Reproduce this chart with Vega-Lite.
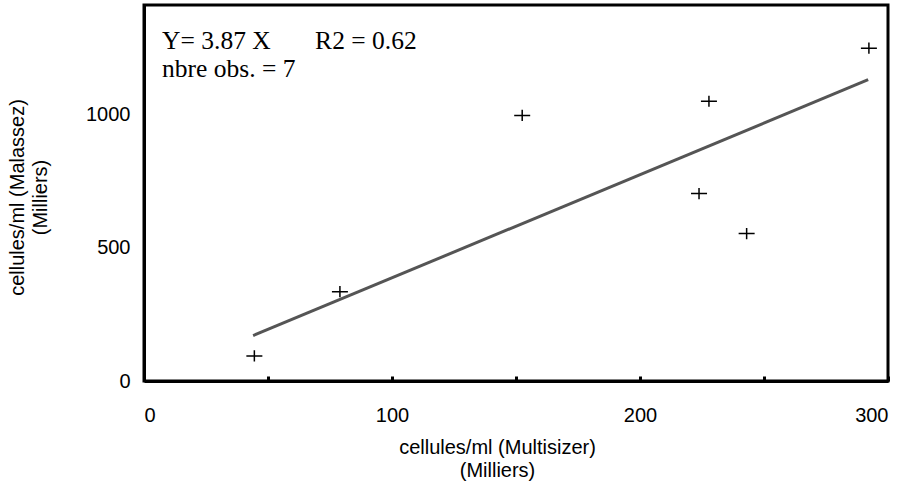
{
  "$schema": "https://vega.github.io/schema/vega-lite/v6.json",
  "width": 744,
  "height": 376,
  "autosize": "none",
  "padding": {"left": 144, "top": 5, "right": 21, "bottom": 107},
  "background": "white",
  "config": {
    "view": {"stroke": "black", "strokeWidth": 3},
    "font": "Liberation Sans",
    "axis": {
      "domainColor": "black",
      "domainWidth": 3,
      "grid": false,
      "labelColor": "black",
      "labelFont": "Liberation Sans",
      "labelFontSize": 20,
      "titleColor": "black",
      "titleFont": "Liberation Sans",
      "titleFontSize": 20,
      "titleFontWeight": "normal",
      "titleLineHeight": 23
    }
  },
  "datasets": {
    "obs": [
      {"multisizer": 44.5, "malassez": 94},
      {"multisizer": 79, "malassez": 335},
      {"multisizer": 152.5, "malassez": 996},
      {"multisizer": 227.8, "malassez": 1049},
      {"multisizer": 223.8, "malassez": 703},
      {"multisizer": 243, "malassez": 553},
      {"multisizer": 292.3, "malassez": 1248}
    ],
    "fit": [
      {"multisizer": 44, "malassez": 170.3},
      {"multisizer": 292, "malassez": 1130}
    ]
  },
  "layer": [
    {
      "data": {"name": "fit"},
      "mark": {"type": "line", "color": "#555555", "strokeWidth": 3},
      "encoding": {
        "x": {
          "field": "multisizer",
          "type": "quantitative",
          "scale": {"domain": [0, 300], "nice": false, "zero": false},
          "axis": {
            "values": [0, 50, 100, 150, 200, 250, 300],
            "labelExpr": "datum.value % 100 == 0 ? datum.label : ''",
            "tickSize": -5,
            "tickWidth": 3,
            "tickColor": "black",
            "labelPadding": 29,
            "title": ["cellules/ml (Multisizer)", "(Milliers)"],
            "titleX": 353,
            "titleY": 72,
            "titleAlign": "center",
            "titleBaseline": "alphabetic",
            "titleAnchor": null
          }
        },
        "y": {
          "field": "malassez",
          "type": "quantitative",
          "scale": {"domain": [0, 1410], "nice": false, "zero": false},
          "axis": {
            "values": [0, 500, 1000],
            "format": "d",
            "ticks": false,
            "labelPadding": 14,
            "title": ["cellules/ml (Malassez)", "(Milliers)"],
            "titleX": -121,
            "titleY": 192,
            "titleAngle": -90,
            "titleAlign": "center",
            "titleBaseline": "alphabetic"
          }
        }
      }
    },
    {
      "data": {"name": "obs"},
      "mark": {
        "type": "point",
        "shape": "M-1,0H1M0,-0.7V0.7",
        "size": 256,
        "filled": false,
        "stroke": "black",
        "strokeWidth": 1.5,
        "opacity": 1
      },
      "encoding": {
        "x": {"field": "multisizer", "type": "quantitative"},
        "y": {"field": "malassez", "type": "quantitative"}
      }
    },
    {
      "data": {"values": [{"label": "Y= 3.87 X"}]},
      "mark": {"type": "text", "font": "Liberation Serif", "fontSize": 25.5, "align": "left", "baseline": "alphabetic", "fill": "black"},
      "encoding": {
        "x": {"datum": 7.3},
        "y": {"datum": 1245},
        "text": {"field": "label", "type": "nominal"}
      }
    },
    {
      "data": {"values": [{"label": "R2 = 0.62"}]},
      "mark": {"type": "text", "font": "Liberation Serif", "fontSize": 25.5, "align": "left", "baseline": "alphabetic", "fill": "black"},
      "encoding": {
        "x": {"datum": 69},
        "y": {"datum": 1245},
        "text": {"field": "label", "type": "nominal"}
      }
    },
    {
      "data": {"values": [{"label": "nbre obs. = 7"}]},
      "mark": {"type": "text", "font": "Liberation Serif", "fontSize": 25.5, "align": "left", "baseline": "alphabetic", "fill": "black"},
      "encoding": {
        "x": {"datum": 7.3},
        "y": {"datum": 1140},
        "text": {"field": "label", "type": "nominal"}
      }
    }
  ]
}
